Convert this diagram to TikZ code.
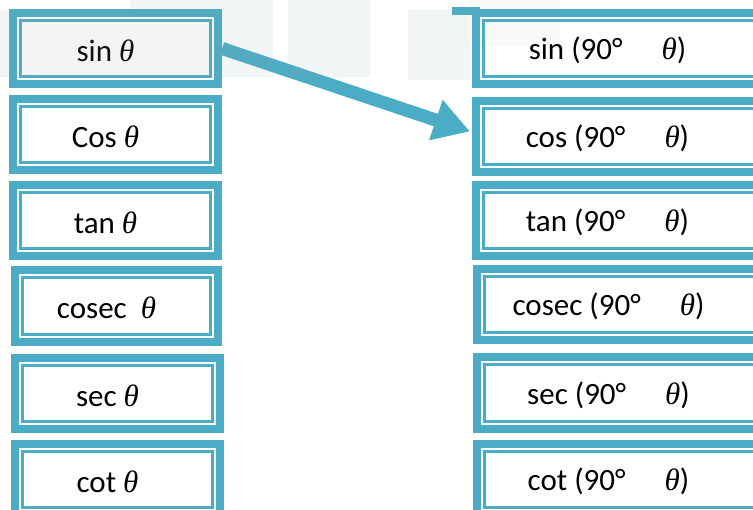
\documentclass[tikz,border=0pt]{standalone}
\usepackage{fontspec}
\setmainfont{Carlito}
\newfontfamily\grk{Liberation Serif}
\usetikzlibrary{arrows.meta}
\definecolor{aqua}{HTML}{4BACC6}
\definecolor{haze}{RGB}{140,165,160}
\tikzset{
  tbox/.style={draw=aqua, line width=8pt, fill=white, inner sep=0pt,
    minimum width=#1, minimum height=71pt,
    font=\fontsize{31}{36}\selectfont,
    path picture={\draw[aqua, line width=3pt]
      ([shift={(7.8pt,-7.8pt)}]path picture bounding box.north west) rectangle
      ([shift={(-7.8pt,7.8pt)}]path picture bounding box.south east);}},
  lbox/.style={tbox=205pt},
  rbox/.style={tbox=295pt},
  link/.style={draw=aqua, line width=13pt, -{Triangle[length=36pt,width=40pt]}},
  wm/.style={fill=haze, fill opacity=0.11},
}
\newcommand{\thet}{{\grk\itshape θ}}
\newcommand{\gapdeg}{\hspace{39pt}}
\newcommand{\lt}[1]{\raisebox{-2pt}[\height][\depth]{#1}\hspace*{20pt}}
\newcommand{\rt}[1]{\raisebox{-2pt}[\height][\depth]{#1 (90°\gapdeg\thet)}\hspace*{32pt}}
\begin{document}
\begin{tikzpicture}[x=1pt,y=-1pt]
\useasboundingbox (0,0) rectangle (753,510);
\clip (0,0) rectangle (753,510);

% left column
\node[lbox] (l1) at (115.5,48.5) {\lt{sin \thet}};
\node[lbox] (l2) at (115.5,134.5) {\lt{Cos \thet}};
\node[lbox] (l3) at (115.5,220.5) {\lt{tan \thet}};
\node[tbox=203pt, minimum height=72pt] (l4) at (116.5,306) {\lt{cosec\ \ \thet}};
\node[lbox] (l5) at (117.5,393.5) {\lt{sec \thet}};
\node[lbox] (l6) at (117.5,479.5) {\lt{cot \thet}};

% right column
\fill[aqua] (452,7) rectangle (480,15);
\node[rbox] (r1) at (623.5,48.5) {\rt{sin}};
\node[rbox] (r2) at (623.5,136.5) {\rt{cos}};
\node[rbox] (r3) at (623.5,220.5) {\rt{tan}};
\node[rbox] (r4) at (624.5,304.5) {\rt{cosec}};
\node[rbox, minimum height=72pt] (r5) at (624.5,393) {\rt{sec}};
\node[rbox] (r6) at (624.5,479.5) {\rt{cot}};

% connector
\draw[link] (l1.east) -- ([shift={(-2,-5)}]r2.west);

% faint background shapes along the top
\fill[wm] (0,10) rectangle (130,77);
\fill[wm] (130,0) rectangle (273,77);
\fill[wm] (288,0) rectangle (370,77);
\fill[wm] (408,10) rectangle (470,80);
\fill[wm, fill opacity=0.06] (470,0) rectangle (560,45);
\end{tikzpicture}
\end{document}
